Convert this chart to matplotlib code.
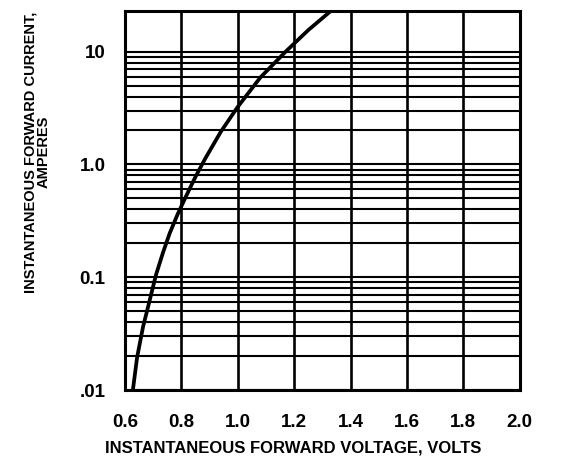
import matplotlib
matplotlib.use("Agg")
import matplotlib.pyplot as plt
from matplotlib.ticker import FixedLocator, NullFormatter

plt.rcParams['font.family'] = ['Liberation Sans', 'DejaVu Sans']

# curve (volts, amperes)
voltage = [0.628, 0.643, 0.664, 0.688, 0.71, 0.735, 0.759, 0.787, 0.817, 0.85, 0.884, 0.94, 1.0, 1.08, 1.17, 1.25, 1.33]
current = [0.01, 0.0195, 0.0363, 0.063, 0.105, 0.166, 0.247, 0.363, 0.525, 0.776, 1.12, 1.95, 3.24, 5.89, 10.0, 15.5, 22.9]

x_ticks = [0.6, 0.8, 1.0, 1.2, 1.4, 1.6, 1.8, 2.0]
x_labels = ["0.6", "0.8", "1.0", "1.2", "1.4", "1.6", "1.8", "2.0"]
y_ticks = [0.01, 0.1, 1.0, 10]
y_labels = [".01", "0.1", "1.0", "10"]
decades = [0.01, 0.1, 1.0]
multipliers = [1, 2, 3, 4, 5, 6, 7, 8, 9, 10]

fig = plt.figure(figsize=(5.77, 4.70), dpi=100)
ax = fig.add_axes([0.2166, 0.170, 0.684, 0.807])
ax.set_yscale('log')
ax.set_xlim(0.6, 2.0)
ax.set_ylim(0.01, 23)

# grid lines
for x in x_ticks:
    ax.axvline(x, color='black', lw=1.9, zorder=1)
hlines = sorted(set(round(d * m, 6) for d in decades for m in multipliers))
for y in hlines:
    ax.axhline(y, color='black', lw=1.5, zorder=1)

ax.plot(voltage, current, color='black', lw=2.7, zorder=3, solid_capstyle='butt')

ax.set_xticks(x_ticks)
ax.set_xticklabels(x_labels)
ax.yaxis.set_major_locator(FixedLocator(y_ticks))
ax.yaxis.set_minor_locator(FixedLocator([]))
ax.yaxis.set_minor_formatter(NullFormatter())
ax.set_yticklabels(y_labels)
ax.tick_params(axis='both', length=0, labelsize=13.5)
ax.tick_params(axis='x', pad=17)
ax.tick_params(axis='y', pad=14)
for lab in ax.get_xticklabels() + ax.get_yticklabels():
    lab.set_fontweight('bold')
for s in ax.spines.values():
    s.set_linewidth(2.2)

fig.text(0.508, 1 - 448 / 470, "INSTANTANEOUS FORWARD VOLTAGE, VOLTS",
         ha='center', va='center', fontsize=12, fontweight='bold')
fig.text(37 / 577, 1 - 152 / 470, "INSTANTANEOUS FORWARD CURRENT,\nAMPERES",
         ha='center', va='center', rotation=90, fontsize=10.5, fontweight='bold',
         multialignment='center', linespacing=0.95)

fig.savefig("out.png", dpi=100)
